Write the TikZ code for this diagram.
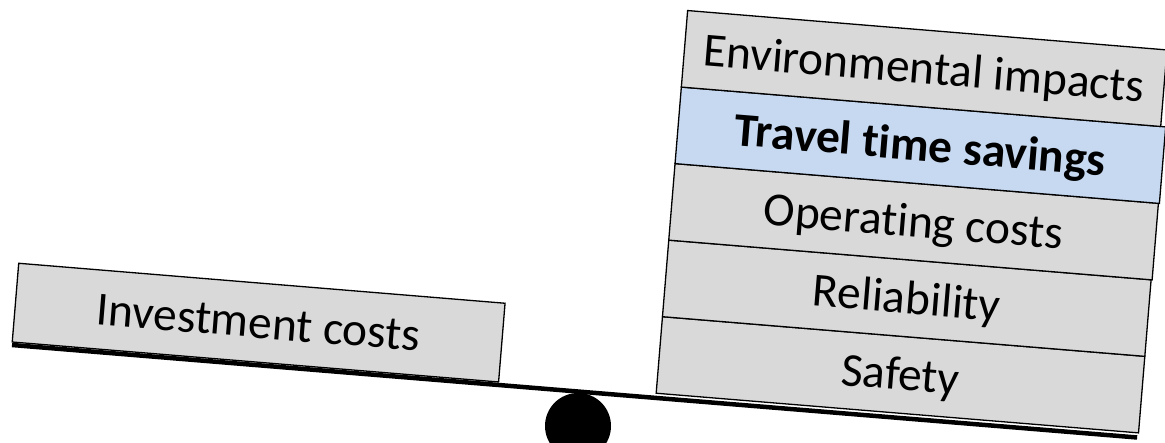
\documentclass[tikz,border=0pt]{standalone}
\usepackage{fontspec}
\setmainfont{Carlito}[Ligatures={NoCommon}]
\definecolor{boxgray}{HTML}{D9D9D9}
\definecolor{boxblue}{HTML}{C6D9F1}
\begin{document}
\begin{tikzpicture}[x=1bp,y=1bp,
  box/.style={draw=black, line width=1.3bp, fill=boxgray, inner sep=0pt,
    text height=30.6bp, text depth=0bp, minimum height=76.8bp,
    font=\fontsize{47.5bp}{56bp}\selectfont, transform shape},
  beam/.style={line width=4.5bp, draw=black},
]
\useasboundingbox (0,0) rectangle (1165,443);
\clip (0,0) rectangle (1165,443);
\node[circle, fill=black, minimum size=66bp, inner sep=0pt] (fulcrum) at (578,17) {};
\begin{scope}[shift={(12,98)}, rotate=-4.7]
  \node[box, minimum width=488bp, minimum height=79bp] (inv) at (244,42.5) {Investment costs};
  \node[box, minimum width=484bp] (safety) at (888,43.1) {Safety};
  \node[box, minimum width=484bp] (rel) at (888,119.9) {Reliability};
  \node[box, minimum width=485bp] (op) at (888.5,196.7) {Operating costs};
  \node[box, minimum width=486bp, fill=boxblue] (travel) at (889,273.5) {\bfseries Travel time savings};
  \node[box, minimum width=481bp] (env) at (886.5,350.3) {Environmental impacts};
  \coordinate (bl) at (0,0);
  \coordinate (br) at (1129,0);
  \draw[beam] (bl) -- (br);
\end{scope}
\end{tikzpicture}
\end{document}
